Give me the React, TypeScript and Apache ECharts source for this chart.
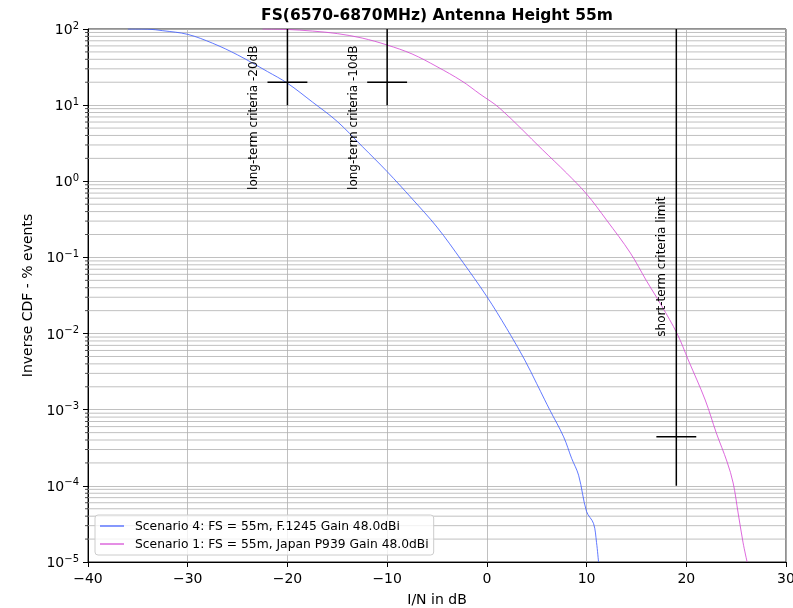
import React, { useEffect, useRef } from "react";
import * as echarts from "echarts";

const TITLE = "FS(6570-6870MHz) Antenna Height 55m";
const X_NAME = "I/N in dB";
const Y_NAME = "Inverse CDF - % events";
const X_MIN = -40;
const X_MAX = 30;
const X_STEP = 10;
const Y_MIN = 1e-5;
const Y_MAX = 100;

const S4_NAME = "Scenario 4: FS = 55m, F.1245 Gain 48.0dBi";
const S4_X = [-36, -34, -32.5, -30, -27.5, -25, -22, -20, -17.5, -15, -12.5, -10, -7.5, -5, -2.5, 0, 2, 3.8, 5, 5.8, 6.3, 7.7, 8.5, 9.2, 10, 10.7, 11, 11.2];
const S4_Y = [99.99, 99.5, 95, 85, 65, 45.7, 27.6, 19.4, 11, 6.1, 2.87, 1.34, 0.59, 0.25, 0.09, 0.0306, 0.0116, 0.0045, 0.0022, 0.00135, 0.001, 0.00044, 0.00023, 0.000138, 0.000046, 0.000032, 0.000018, 0.00001];

const S1_NAME = "Scenario 1: FS = 55m, Japan P939 Gain 48.0dBi";
const S1_X = [-22.5, -20, -17.5, -15, -12.5, -10, -7.5, -5, -2.5, -0.7, 1.3, 5.6, 8, 10, 12, 14.4, 16, 17.5, 19.1, 20.2, 21.9, 23, 24.1, 24.7, 25.2, 25.7, 26.1];
const S1_Y = [99.99, 98.5, 94, 87, 76, 61.6, 47, 32, 20.7, 14.0, 9.08, 2.58, 1.28, 0.68, 0.31, 0.114, 0.0495, 0.0235, 0.00986, 0.0045, 0.00134, 0.0005, 0.000205, 0.000109, 0.000044, 0.0000178, 0.00001];

const S4_COLOR = "#3a58ff";
const S1_COLOR = "#d444d4";

// criteria markers: [x0, y0, x1, y1]
const CRITERIA_SEGMENTS = [
  [-20, 10, -20, 100],
  [-22, 20, -18, 20],
  [-10, 10, -10, 100],
  [-12, 20, -8, 20],
  [19, 1e-4, 19, 100],
  [17, 4.4e-4, 21, 4.4e-4],
];
const CRITERIA_LABEL_TEXT = ["long-term criteria -20dB", "long-term criteria -10dB", "short-term criteria limit"];
const CRITERIA_LABEL_X = [-23.5, -13.45, 17.45];
const CRITERIA_LABEL_Y = [0.77, 0.77, 0.0091];

const MINOR_DECADES = [-5, -4, -3, -2, -1, 0, 1];
const MINOR_MULTIPLIERS = [2, 3, 4, 5, 6, 7, 8, 9];

const FONT = "DejaVu Sans";
const GRID_COLOR = "#b0b0b0";

function fmtX(v: number): string {
  return v < 0 ? "\u2212" + Math.abs(v) : String(v);
}
function fmtY(v: number): string {
  const e = Math.round(Math.log10(v));
  const es = e < 0 ? "\u2212" + Math.abs(e) : String(e);
  return "{b|10}{s|" + es + "}";
}

export default function App() {
  const ref = useRef<HTMLDivElement>(null);
  useEffect(() => {
    if (!ref.current) return;
    const chart = echarts.init(ref.current, undefined, { renderer: "svg" });
    const minorValues: number[][] = [];
    MINOR_DECADES.forEach((d) => MINOR_MULTIPLIERS.forEach((m) => minorValues.push([X_MIN, m * Math.pow(10, d)])));

    const segSeries = CRITERIA_SEGMENTS.map((s) => ({
      type: "line",
      data: [[s[0], s[1]], [s[2], s[3]]],
      symbol: "none",
      lineStyle: { color: "#000", width: 1.5 },
      silent: true,
      z: 5,
    }));

    chart.setOption({
      animation: false,
      title: {
        text: TITLE,
        left: 432,
        textAlign: "center",
        top: 1,
        textStyle: { fontFamily: FONT, fontSize: 15.5, fontWeight: "bold", color: "#000", lineHeight: 18 },
      },
      grid: { left: 88, right: 7, top: 29, bottom: 46, show: true, borderColor: "#222", borderWidth: 1, outerBoundsMode: "none", containLabel: false },
      legend: {
        data: [S4_NAME, S1_NAME],
        orient: "vertical",
        left: 95,
        top: 515,
        icon: "rect",
        itemWidth: 24,
        itemHeight: 1.2,
        itemGap: 4,
        padding: [4, 5, 4, 5],
        backgroundColor: "rgba(255,255,255,0.8)",
        borderColor: "#cccccc",
        borderWidth: 1,
        borderRadius: 3,
        textStyle: { fontFamily: FONT, fontSize: 12.3, color: "#000", lineHeight: 14, padding: [0, 0, 0, 6] },
      },
      xAxis: {
        type: "value",
        min: X_MIN,
        max: X_MAX,
        interval: X_STEP,
        name: X_NAME,
        nameLocation: "middle",
        nameGap: 30,
        nameTextStyle: { fontFamily: FONT, fontSize: 14, color: "#000" },
        axisLine: { show: true, onZero: false, lineStyle: { color: "#000", width: 1 } },
        axisTick: { show: true, length: 5, lineStyle: { color: "#000", width: 1 } },
        axisLabel: { formatter: fmtX, fontFamily: FONT, fontSize: 14, color: "#000", margin: 9 },
        splitLine: { show: true, lineStyle: { color: GRID_COLOR, width: 0.8 } },
      },
      yAxis: {
        type: "log",
        logBase: 10,
        min: Y_MIN,
        max: Y_MAX,
        splitNumber: 7,
        name: Y_NAME,
        nameLocation: "middle",
        nameGap: 54,
        nameTextStyle: { fontFamily: FONT, fontSize: 14, color: "#000" },
        axisLine: { show: true, onZero: false, lineStyle: { color: "#000", width: 1 } },
        axisTick: { show: true, length: 5, lineStyle: { color: "#000", width: 1 } },
        axisLabel: {
          formatter: fmtY,
          margin: 9,
          rich: {
            b: { fontFamily: FONT, fontSize: 14, color: "#000", lineHeight: 18 },
            s: { fontFamily: FONT, fontSize: 10, color: "#000", lineHeight: 12, verticalAlign: "top" },
          },
        },
        splitLine: { show: true, lineStyle: { color: GRID_COLOR, width: 0.8 } },
      },
      series: [
        {
          type: "custom",
          silent: true,
          z: 1,
          clip: false,
          data: minorValues,
          renderItem: (params: any, api: any) => {
            const v = api.value(1);
            const p0 = api.coord([X_MIN, v]);
            const p1 = api.coord([X_MAX, v]);
            return {
              type: "group",
              children: [
                { type: "line", shape: { x1: p0[0], y1: p0[1], x2: p1[0], y2: p1[1] }, style: { stroke: GRID_COLOR, lineWidth: 0.8 } },
                { type: "line", shape: { x1: p0[0] - 3, y1: p0[1], x2: p0[0], y2: p0[1] }, style: { stroke: "#000", lineWidth: 0.7 } },
              ],
            };
          },
        },
        {
          name: S4_NAME,
          type: "line",
          data: S4_X.map((x, i) => [x, S4_Y[i]]),
          symbol: "none",
          smooth: 0.35,
          color: S4_COLOR,
          lineStyle: { color: S4_COLOR, width: 0.8 },
          z: 3,
        },
        {
          name: S1_NAME,
          type: "line",
          data: S1_X.map((x, i) => [x, S1_Y[i]]),
          symbol: "none",
          smooth: 0.35,
          color: S1_COLOR,
          lineStyle: { color: S1_COLOR, width: 0.8 },
          z: 3,
        },
        ...segSeries,
      ],
    });

    const graphics = CRITERIA_LABEL_TEXT.map((t, i) => {
      const p = chart.convertToPixel({ gridIndex: 0 }, [CRITERIA_LABEL_X[i], CRITERIA_LABEL_Y[i]]) as number[];
      return {
        type: "text",
        x: p[0],
        y: p[1],
        rotation: Math.PI / 2,
        z: 10,
        style: { text: t, fontFamily: FONT, fontSize: 12, fill: "#000", align: "left", verticalAlign: "middle" },
      };
    });
    chart.setOption({ graphic: graphics });

    return () => chart.dispose();
  }, []);
  return <div ref={ref} style={{ position: "fixed", left: 0, top: 0, width: 793, height: 608 }} />;
}
